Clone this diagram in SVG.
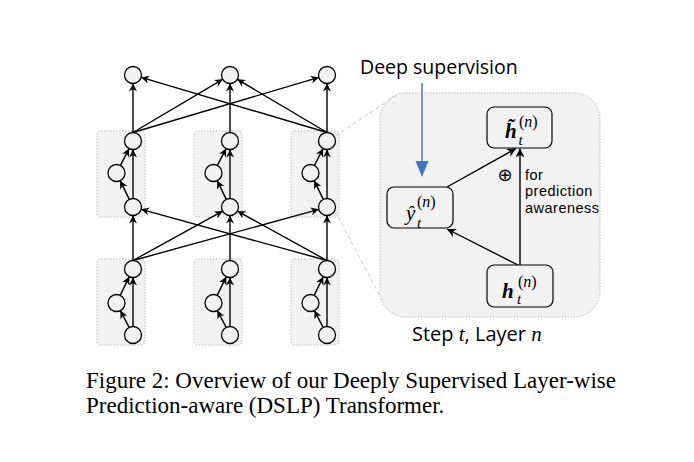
<svg xmlns="http://www.w3.org/2000/svg" width="694" height="462" viewBox="0 0 694 462">
<style>
.bg{fill:#ffffff}
.blk{fill:#f2f2f2;stroke:#cfcfcf;stroke-width:1.4;stroke-dasharray:1.5 1.5}
.nd{fill:#f2f2f2;stroke:#000;stroke-width:1.3}
.c{stroke:#000;stroke-width:1.4;fill:none;marker-end:url(#ah)}
.dash{stroke:#c8c8c8;stroke-width:1;stroke-dasharray:4 3;fill:none}
.box{fill:#f2f2f2;stroke:#000;stroke-width:1.2}
.sans{font-family:"Open Sans","DejaVu Sans",sans-serif;fill:#000}
.note{font-family:"Liberation Sans",Arial,sans-serif;font-size:14.5px;letter-spacing:0.5px;fill:#000}
.mi{font-family:"Liberation Serif","Times New Roman",serif;font-style:italic;fill:#000}
.mb{font-family:"Liberation Serif","Times New Roman",serif;font-style:italic;font-weight:bold;fill:#000}
.mr{font-family:"Liberation Serif","Times New Roman",serif;font-style:normal;font-weight:normal}
.cap{font-family:"Liberation Serif","Times New Roman",serif;font-size:23px;fill:#000}
</style>
<defs>
<marker id="ah" viewBox="0 0 10 10" refX="10" refY="5" markerWidth="9" markerHeight="8" markerUnits="userSpaceOnUse" orient="auto">
<path d="M0,0 L10,5 L0,10 L3,5 Z" fill="#000"/>
</marker>
<marker id="ah2" viewBox="0 0 10 10" refX="10" refY="5" markerWidth="10" markerHeight="9" markerUnits="userSpaceOnUse" orient="auto">
<path d="M0,0 L10,5 L0,10 L3,5 Z" fill="#000"/>
</marker>
</defs>
<rect class="bg" x="0" y="0" width="694" height="462"/>

<g id="blocks">
<rect class="blk" x="97" y="131" width="48" height="86" rx="4"/>
<rect class="blk" x="194" y="131" width="48" height="86" rx="4"/>
<rect class="blk" x="291" y="131" width="48" height="86" rx="4"/>
<rect class="blk" x="97" y="259" width="48" height="86" rx="4"/>
<rect class="blk" x="194" y="259" width="48" height="86" rx="4"/>
<rect class="blk" x="291" y="259" width="48" height="86" rx="4"/>
</g>

<g id="panel">
<rect class="blk" x="380" y="93" width="220" height="224" rx="26"/>
</g>

<g id="connectors">
<line class="dash" x1="335" y1="136" x2="400" y2="93"/>
<line class="dash" x1="335" y1="211" x2="382" y2="300"/>
<!-- top layer -->
<line class="c" x1="133" y1="132.5" x2="133" y2="83.5"/>
<line class="c" x1="230" y1="132.5" x2="230" y2="83.5"/>
<line class="c" x1="327" y1="132.5" x2="327" y2="83.5"/>
<line class="c" x1="133" y1="132.5" x2="222.7" y2="79.3"/>
<line class="c" x1="133" y1="132.5" x2="318.8" y2="77.4"/>
<line class="c" x1="327" y1="132.5" x2="237.3" y2="79.3"/>
<line class="c" x1="327" y1="132.5" x2="141.2" y2="77.4"/>
<!-- middle layer -->
<line class="c" x1="133" y1="260.5" x2="133" y2="215.5"/>
<line class="c" x1="230" y1="260.5" x2="230" y2="215.5"/>
<line class="c" x1="327" y1="260.5" x2="327" y2="215.5"/>
<line class="c" x1="133" y1="260.5" x2="222.6" y2="211.1"/>
<line class="c" x1="133" y1="260.5" x2="318.8" y2="209.3"/>
<line class="c" x1="327" y1="260.5" x2="237.4" y2="211.1"/>
<line class="c" x1="327" y1="260.5" x2="141.2" y2="209.3"/>
<!-- upper blocks -->
<line class="c" x1="129.3" y1="199.35" x2="120.2" y2="180.65"/>
<line class="c" x1="120.4" y1="165.44" x2="129.1" y2="148.56"/>
<line class="c" x1="133" y1="198.5" x2="133" y2="149.5"/>
<line class="c" x1="226.3" y1="199.35" x2="217.2" y2="180.65"/>
<line class="c" x1="217.4" y1="165.44" x2="226.1" y2="148.56"/>
<line class="c" x1="230" y1="198.5" x2="230" y2="149.5"/>
<line class="c" x1="323.3" y1="199.35" x2="314.2" y2="180.65"/>
<line class="c" x1="314.4" y1="165.44" x2="323.1" y2="148.56"/>
<line class="c" x1="327" y1="198.5" x2="327" y2="149.5"/>
<!-- lower blocks -->
<line class="c" x1="129.1" y1="327.44" x2="120.4" y2="310.56"/>
<line class="c" x1="120.2" y1="295.35" x2="129.3" y2="276.65"/>
<line class="c" x1="133" y1="326.5" x2="133" y2="277.5"/>
<line class="c" x1="226.1" y1="327.44" x2="217.4" y2="310.56"/>
<line class="c" x1="217.2" y1="295.35" x2="226.3" y2="276.65"/>
<line class="c" x1="230" y1="326.5" x2="230" y2="277.5"/>
<line class="c" x1="323.1" y1="327.44" x2="314.4" y2="310.56"/>
<line class="c" x1="314.2" y1="295.35" x2="323.3" y2="276.65"/>
<line class="c" x1="327" y1="326.5" x2="327" y2="277.5"/>
<!-- right panel -->
<line class="c" style="marker-end:url(#ah2)" x1="520" y1="265" x2="520" y2="148.5"/>
<line class="c" style="marker-end:url(#ah2)" x1="447" y1="187" x2="516" y2="148.5"/>
<line class="c" style="marker-end:url(#ah2)" x1="518" y1="265" x2="447" y2="229"/>
<!-- deep supervision -->
<line x1="422" y1="83" x2="422" y2="162" stroke="#4472C4" stroke-width="1.5"/>
<path d="M415.5,161 L428.5,161 L422,177 Z" fill="#4472C4"/>
</g>

<g id="nodes-top">
<circle class="nd" cx="133" cy="75" r="8.5"/>
<circle class="nd" cx="230" cy="75" r="8.5"/>
<circle class="nd" cx="327" cy="75" r="8.5"/>
</g>
<g id="nodes-upper">
<circle class="nd" cx="133" cy="141" r="8.5"/>
<circle class="nd" cx="116.5" cy="173" r="8.5"/>
<circle class="nd" cx="133" cy="207" r="8.5"/>
<circle class="nd" cx="230" cy="141" r="8.5"/>
<circle class="nd" cx="213.5" cy="173" r="8.5"/>
<circle class="nd" cx="230" cy="207" r="8.5"/>
<circle class="nd" cx="327" cy="141" r="8.5"/>
<circle class="nd" cx="310.5" cy="173" r="8.5"/>
<circle class="nd" cx="327" cy="207" r="8.5"/>
</g>
<g id="nodes-lower">
<circle class="nd" cx="133" cy="269" r="8.5"/>
<circle class="nd" cx="116.5" cy="303" r="8.5"/>
<circle class="nd" cx="133" cy="335" r="8.5"/>
<circle class="nd" cx="230" cy="269" r="8.5"/>
<circle class="nd" cx="213.5" cy="303" r="8.5"/>
<circle class="nd" cx="230" cy="335" r="8.5"/>
<circle class="nd" cx="327" cy="269" r="8.5"/>
<circle class="nd" cx="310.5" cy="303" r="8.5"/>
<circle class="nd" cx="327" cy="335" r="8.5"/>
</g>

<g id="node-htilde">
<rect class="box" x="487" y="107" width="65" height="41" rx="7"/>
<text class="mb" x="505" y="138" font-size="21">h&#x303;</text>
<text class="mi" x="518.5" y="145" font-size="15">t</text>
<text class="mr" x="519" y="127" font-size="16" font-family="Liberation Serif, serif">(<tspan class="mi">n</tspan>)</text>
</g>

<g id="node-yhat">
<rect class="box" x="387" y="187" width="66" height="41" rx="7"/>
<text class="mi" x="406" y="220" font-size="21">ŷ</text>
<text class="mi" x="417" y="228" font-size="15">t</text>
<text class="mr" x="417" y="207" font-size="16" font-family="Liberation Serif, serif">(<tspan class="mi">n</tspan>)</text>
</g>

<g id="node-h">
<rect class="box" x="487" y="265" width="66" height="42" rx="7"/>
<text class="mb" x="502" y="298" font-size="21">h</text>
<text class="mi" x="517" y="304" font-size="15">t</text>
<text class="mr" x="518" y="287" font-size="16" font-family="Liberation Serif, serif">(<tspan class="mi">n</tspan>)</text>
</g>

<g id="labels">
<text class="sans" x="360" y="74" font-size="19.5">Deep supervision</text>
<text x="505" y="181" font-size="18" font-family="DejaVu Sans, sans-serif" text-anchor="middle">⊕</text>
<text class="note"><tspan x="525" y="179.5">for</tspan><tspan x="525" y="196">prediction</tspan><tspan x="525" y="212.5">awareness</tspan></text>
<text class="sans" x="412" y="341" font-size="20">Step <tspan class="mi" font-size="21">t</tspan>, Layer <tspan class="mi" font-size="21">n</tspan></text>
</g>

<g id="caption">
<text class="cap" x="86" y="388" textLength="530" lengthAdjust="spacing">Figure 2: Overview of our Deeply Supervised Layer-wise</text>
<text class="cap" x="86" y="413">Prediction-aware (DSLP) Transformer.</text>
</g>
</svg>
